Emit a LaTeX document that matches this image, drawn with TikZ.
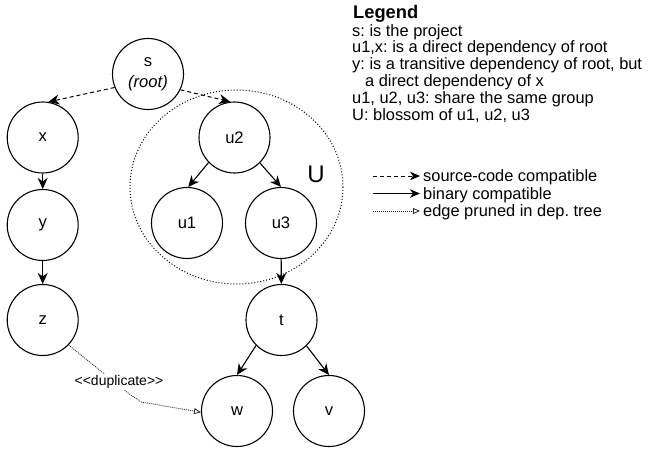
\documentclass[tikz,border=0pt]{standalone}
\usepackage{fontspec}
\setmainfont{Liberation Sans}
\usetikzlibrary{arrows.meta}
\frenchspacing
\tikzset{
  vert/.style={circle, draw, line width=1.1pt, minimum size=71pt, inner sep=0pt, font=\fontsize{16.6}{21}\selectfont, align=center},
  tipc/.style={-{Stealth[length=11pt,width=10pt,inset=3.5pt]}},
  srcedge/.style={tipc, line width=1pt, dash pattern=on 4pt off 3pt},
  binedge/.style={tipc, line width=1.1pt},
  prunedge/.style={-{Triangle[open,length=7pt,width=6pt]}, line width=0.8pt, dash pattern=on 1pt off 1pt, black!85},
  blossom/.style={draw, line width=1pt, dash pattern=on 1pt off 2pt},
  legtxt/.style={anchor=base west, inner sep=0pt, font=\fontsize{16.4}{20}\selectfont},
  legtip/.style={-{Stealth[length=10pt,width=8.5pt,inset=3pt]}},
  lbl/.style={inner sep=1pt, fill=white, font=\fontsize{14}{16}\selectfont}
}
\begin{document}
\begin{tikzpicture}[x=1pt, y=-1pt]
\useasboundingbox (0,0) rectangle (649,448);
% blossom
\draw[blossom] (236.5,187) ellipse [x radius=106.5, y radius=97];
\node[inner sep=0pt, font=\fontsize{24}{24}\selectfont] (U) at (316,174) {U};
% nodes
\node[vert] (s) at (148,74) {s\\\textit{(root)}};
\node[vert] (x) at (42.7,137.5) {x};
\node[vert] (y) at (42.7,225) {y};
\node[vert] (z) at (42.7,320) {z};
\node[vert] (u2) at (234.5,137.5) {u2};
\node[vert] (u1) at (187,223) {u1};
\node[vert] (u3) at (281,223) {u3};
\node[vert] (t) at (281.5,320) {t};
\node[vert] (w) at (237,411) {w};
\node[vert] (v) at (329,411) {v};
% edges
\draw[srcedge] (s.202) -- (x.81);
\draw[srcedge] (s.-26) -- (u2.97);
\draw[binedge] (x) -- (y);
\draw[binedge] (y) -- (z);
\draw[binedge] (u2.224) -- (u1.88);
\draw[binedge] (u2.-45) -- (u3.north);
\draw[binedge] (u3) -- (t);
\draw[binedge] (t.225) -- (w.north);
\draw[binedge] (t.-46) -- (v.north);
% duplicate edge
\coordinate (d1) at (128,393);
\coordinate (d2) at (141,402);
\draw[prunedge] (z.-44) -- (d1) -- (d2) -- (w.182);
\node[lbl] (dup) at (119,382) {<{}<duplicate>{}>};
% legend
\node[legtxt, font=\fontsize{18.3}{20}\bfseries] (lg) at (353,18) {Legend};
\node[legtxt] (l1) at (352,36) {s: is the project};
\node[legtxt] (l2) at (352,52.8) {u1,x: is a direct dependency of root};
\node[legtxt] (l3) at (352,69.6) {y: is a transitive dependency of root, but};
\node[legtxt] (l4) at (365,86.4) {a direct dependency of x};
\node[legtxt] (l5) at (352,103.2) {u1, u2, u3: share the same group};
\node[legtxt] (l6) at (352,120) {U: blossom of u1, u2, u3};
\coordinate (ka1) at (373,176);
\coordinate (kb1) at (420,176);
\coordinate (ka2) at (373,193.5);
\coordinate (kb2) at (420,193.5);
\coordinate (ka3) at (373,211);
\coordinate (kb3) at (420,211);
\draw[srcedge, legtip] (ka1) -- (kb1);
\draw[binedge, legtip] (ka2) -- (kb2);
\draw[prunedge] (ka3) -- (kb3);
\node[legtxt] (k1) at (423,181.5) {source-code compatible};
\node[legtxt] (k2) at (423,199) {binary compatible};
\node[legtxt] (k3) at (423,216.5) {edge pruned in dep. tree};
\end{tikzpicture}
\end{document}
